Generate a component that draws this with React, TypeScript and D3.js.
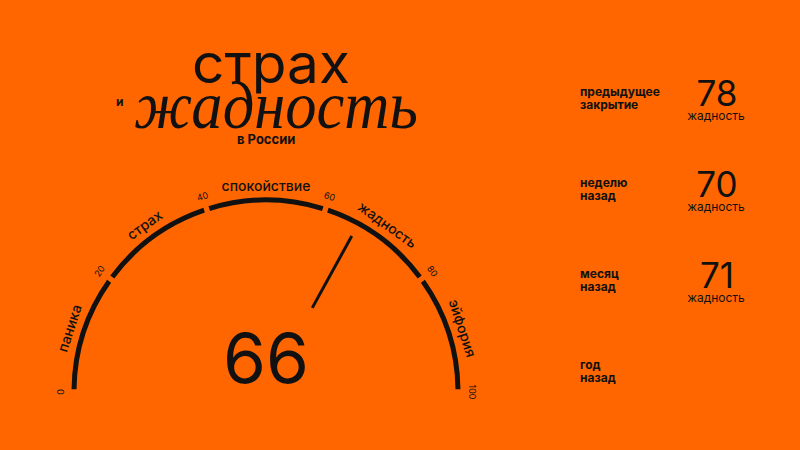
import React from "react";
import * as d3 from "d3";

// gauge zones and ticks
const zoneBounds = [0, 20, 40, 60, 80, 100];
const zoneLabels = ["паника", "страх", "спокойствие", "жадность", "эйфория"];
const tickLabels = ["0", "20", "40", "60", "80", "100"];
const currentValue = 66;

// history panel
const historyTop = ["предыдущее", "неделю", "месяц", "год"];
const historyBottom = ["закрытие", "назад", "назад", "назад"];
const historyValues = [78, 70, 71, null];
const historyMoods = ["жадность", "жадность", "жадность", ""];

const W = 800;
const H = 450;
const BG = "#ff6600";
const INK = "#111";
const SANS = "Inter, 'Liberation Sans', sans-serif";

const cx = 266;
const cy = 392;
const R = 192;

function App() {
  const angle = d3.scaleLinear().domain([0, 100]).range([-Math.PI / 2, Math.PI / 2]);
  const pt = (v: number, r: number) => {
    const a = angle(v);
    return [cx + r * Math.sin(a), cy - r * Math.cos(a)];
  };
  const rot = (v: number) => (angle(v) * 180) / Math.PI;

  const arc = d3
    .arc<any>()
    .innerRadius(R - 2.5)
    .outerRadius(R + 2.5)
    .padAngle(0.028)
    .padRadius(R);

  const rowY = d3.scalePoint<number>().domain([0, 1, 2, 3]).range([96, 369]);

  const [n1x, n1y] = pt(currentValue, 96);
  const [n2x, n2y] = pt(currentValue, 178);

  return (
    <svg width={W} height={H} style={{ display: "block" }}>
      <style>{"body{margin:0}"}</style>
      <rect width={W} height={H} fill={BG} />

      {/* title */}
      <text x={192} y={83} fontFamily={SANS} fontSize={55} fontWeight={400} fill={INK} textLength={158} lengthAdjust="spacingAndGlyphs">
        страх
      </text>
      <text x={116} y={106} fontFamily={SANS} fontSize={12} fontWeight={700} fill={INK}>
        и
      </text>
      <text x={134} y={128} fontFamily="'Liberation Serif', serif" fontStyle="italic" fontSize={68} fill={INK} textLength={284} lengthAdjust="spacingAndGlyphs">
        жадность
      </text>
      <text x={237} y={144} fontFamily={SANS} fontSize={13} fontWeight={700} fill={INK}>
        в России
      </text>

      {/* gauge arc */}
      <g transform={`translate(${cx},${cy})`}>
        {zoneLabels.map((_, i) => (
          <path
            key={i}
            d={arc({ startAngle: angle(zoneBounds[i]), endAngle: angle(zoneBounds[i + 1]) }) as string}
            fill={INK}
          />
        ))}
      </g>

      {tickLabels.map((t, i) => {
        const v = zoneBounds[i];
        const [x, y] = pt(v, 206);
        return (
          <text
            key={t}
            x={x}
            y={y}
            transform={`rotate(${rot(v)},${x},${y})`}
            textAnchor="middle"
            dominantBaseline="central"
            fontFamily={SANS}
            fontSize={9}
            fill={INK}
          >
            {t}
          </text>
        );
      })}

      {zoneLabels.map((l, i) => {
        const v = (zoneBounds[i] + zoneBounds[i + 1]) / 2;
        const [x, y] = pt(v, 207);
        return (
          <text
            key={l}
            x={x}
            y={y}
            transform={`rotate(${rot(v)},${x},${y})`}
            textAnchor="middle"
            dominantBaseline="central"
            fontFamily={SANS}
            fontSize={14}
            fontWeight={500}
            fill={INK}
          >
            {l}
          </text>
        );
      })}

      {/* needle */}
      <line x1={n1x} y1={n1y} x2={n2x} y2={n2y} stroke={INK} strokeWidth={3} />

      <text x={cx} y={383} textAnchor="middle" fontFamily={SANS} fontSize={69} fontWeight={400} fill={INK} textLength={86} lengthAdjust="spacingAndGlyphs">
        {currentValue}
      </text>

      {/* history */}
      {historyTop.map((t, i) => {
        const y = rowY(i) as number;
        const val = historyValues[i];
        return (
          <g key={i}>
            <text x={580} y={y} fontFamily={SANS} fontSize={12} fontWeight={700} fill={INK}>
              {t}
            </text>
            <text x={580} y={y + 13} fontFamily={SANS} fontSize={12} fontWeight={700} fill={INK}>
              {historyBottom[i]}
            </text>
            {val !== null && (
              <text x={717} y={y + 10} textAnchor="middle" fontFamily={SANS} fontSize={35} fontWeight={400} fill={INK}>
                {val}
              </text>
            )}
            {historyMoods[i] && (
              <text x={716} y={y + 24} textAnchor="middle" fontFamily={SANS} fontSize={12} fontWeight={400} fill={INK}>
                {historyMoods[i]}
              </text>
            )}
          </g>
        );
      })}
    </svg>
  );
}

export default App;
